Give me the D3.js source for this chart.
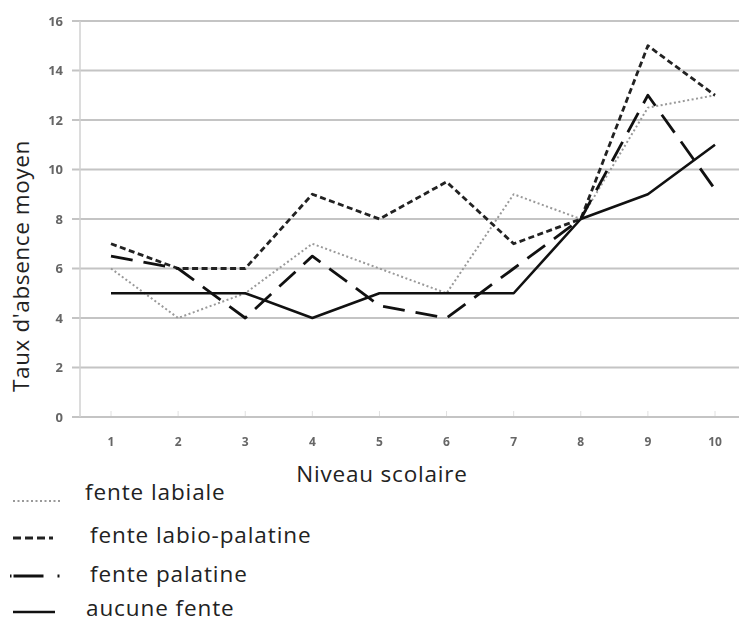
<!DOCTYPE html>
<html>
<head>
<meta charset="utf-8">
<script src="https://cdn.jsdelivr.net/npm/d3@7"></script>
<style>
  body { margin: 0; background: #fff; }
  svg { display: block; font-family: "Open Sans", "Noto Sans", sans-serif; }
</style>
</head>
<body>
<svg id="chart" width="739" height="623"></svg>
<script>
// niveaux scolaires 1..10
const levels = [1, 2, 3, 4, 5, 6, 7, 8, 9, 10];
const yTicks = [0, 2, 4, 6, 8, 10, 12, 14, 16];

const labiale = [6, 4, 5, 7, 6, 5, 9, 8, 12.5, 13];
const labioPalatine = [7, 6, 6, 9, 8, 9.5, 7, 8, 15, 13];
const palatine = [6.5, 6, 4, 6.5, 4.5, 4, 6, 8, 13, 9.2];
const aucune = [5, 5, 5, 4, 5, 5, 5, 8, 9, 11];

const seriesNames = ["fente labiale", "fente labio-palatine", "fente palatine", "aucune fente"];

const svg = d3.select("#chart");

// slight blur for the fuzzy tick numbers
svg.append("defs").append("filter")
  .attr("id", "soft")
  .append("feGaussianBlur")
  .attr("stdDeviation", 0.6);

const x = d3.scalePoint().domain(levels).range([111, 715]);
const y = d3.scaleLinear().domain([0, 16]).range([417, 21]);

// grid
svg.append("g")
  .selectAll("line")
  .data(yTicks)
  .join("line")
  .attr("x1", 72).attr("x2", 739)
  .attr("y1", d => y(d)).attr("y2", d => y(d))
  .attr("stroke", "#c4c4c4")
  .attr("stroke-width", 2);

// y axis line
svg.append("line")
  .attr("x1", 80).attr("x2", 80)
  .attr("y1", y(16)).attr("y2", y(0))
  .attr("stroke", "#d0d0d0").attr("stroke-width", 1.5);

// y tick labels
svg.append("g")
  .attr("filter", "url(#soft)")
  .selectAll("text")
  .data(yTicks)
  .join("text")
  .attr("x", 63).attr("y", d => y(d))
  .attr("dy", "0.36em")
  .attr("text-anchor", "end")
  .attr("font-size", 13)
  .attr("font-weight", "bold")
  .attr("fill", "#666")
  .text(d => d);

// x tick marks + labels
svg.append("g")
  .selectAll("line")
  .data(levels)
  .join("line")
  .attr("x1", d => x(d)).attr("x2", d => x(d))
  .attr("y1", 411).attr("y2", 416)
  .attr("stroke", "#e0e0e0");

svg.append("g")
  .attr("filter", "url(#soft)")
  .selectAll("text")
  .data(levels)
  .join("text")
  .attr("x", d => x(d)).attr("y", 442)
  .attr("dy", "0.36em")
  .attr("text-anchor", "middle")
  .attr("font-size", 12)
  .attr("font-weight", "bold")
  .attr("fill", "#666")
  .text(d => d);

// axis titles
svg.append("text")
  .attr("transform", "translate(29,266) rotate(-90)")
  .attr("text-anchor", "middle")
  .attr("font-size", 22.5)
  .attr("letter-spacing", 0.6)
  .attr("fill", "#222")
  .text("Taux d'absence moyen");

svg.append("text")
  .attr("x", 382).attr("y", 482)
  .attr("text-anchor", "middle")
  .attr("font-size", 22.5)
  .attr("letter-spacing", 0.8)
  .attr("fill", "#222")
  .text("Niveau scolaire");

// lines
const styles = [
  { values: labiale, stroke: "#999", width: 2, dash: "2,2.5", legendDash: "2,2.5", lx: [13, 60] },
  { values: labioPalatine, stroke: "#222", width: 2.8, dash: "6,3.5", legendDash: "8,4", lx: [13, 53] },
  { values: palatine, stroke: "#111", width: 2.8, dash: "22,11", legendDash: "1.5,2,30,14,2", lx: [10, 60] },
  { values: aucune, stroke: "#111", width: 2.6, dash: null, legendDash: null, lx: [13, 55] }
];

const line = d3.line()
  .x((d, i) => x(levels[i]))
  .y(d => y(d));

svg.append("g")
  .selectAll("path")
  .data(styles)
  .join("path")
  .attr("d", d => line(d.values))
  .attr("fill", "none")
  .attr("stroke", d => d.stroke)
  .attr("stroke-width", d => d.width)
  .attr("stroke-dasharray", d => d.dash)
  .attr("stroke-linejoin", "round");

// legend
const legendY = [501, 538, 576, 612];
const textBase = [500, 543, 582, 616];
const textX = [85, 90, 90, 86];

const legend = svg.append("g");
styles.forEach((s, i) => {
  legend.append("line")
    .attr("x1", s.lx[0]).attr("x2", s.lx[1])
    .attr("y1", legendY[i]).attr("y2", legendY[i])
    .attr("stroke", s.stroke)
    .attr("stroke-width", s.width)
    .attr("stroke-dasharray", s.legendDash);
  legend.append("text")
    .attr("x", textX[i]).attr("y", textBase[i])
    .attr("font-size", 22.5)
    .attr("letter-spacing", 0.9)
    .attr("fill", "#222")
    .text(seriesNames[i]);
});
</script>
</body>
</html>
